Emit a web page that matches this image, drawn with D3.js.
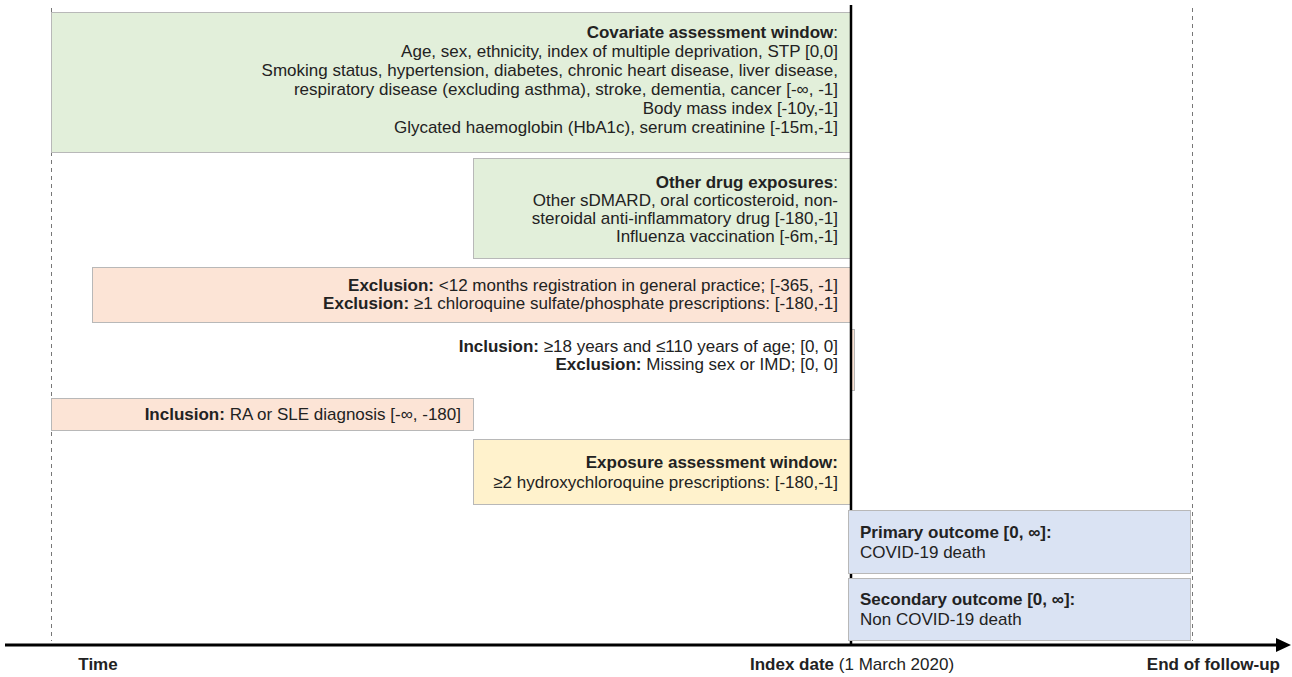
<!DOCTYPE html>
<html>
<head>
<meta charset="utf-8">
<script src="https://cdn.jsdelivr.net/npm/d3@7"></script>
<style>
  body { margin: 0; background: #fff; }
  text { font-family: "Liberation Sans", Arial, sans-serif; fill: #222; font-size: 17px; }
</style>
</head>
<body>
<svg id="chart" width="1292" height="677"></svg>
<script>
// schematic time anchors (days relative to index date)
var timePoints = ["-inf", "-365", "-180", "0", "inf"];

// each window: start, end, kind, text lines as [bold, regular]
var windowFrom = ["-inf", "-180", "-365", "0", "-inf", "-180", "0", "0"];
var windowTo   = ["0", "0", "0", "0", "-180", "0", "inf", "inf"];
var windowKind = ["covariate", "covariate", "criteria", "criteria", "criteria", "exposure", "outcome", "outcome"];
var windowLines = [
    [["Covariate assessment window", ":"],
     ["", "Age, sex, ethnicity, index of multiple deprivation, STP [0,0]"],
     ["", "Smoking status, hypertension, diabetes, chronic heart disease, liver disease,"],
     ["", "respiratory disease (excluding asthma), stroke, dementia, cancer [-\u221E, -1]"],
     ["", "Body mass index [-10y,-1]"],
     ["", "Glycated haemoglobin (HbA1c), serum creatinine [-15m,-1]"]],
    [["Other drug exposures", ":"],
     ["", "Other sDMARD, oral corticosteroid, non-"],
     ["", "steroidal anti-inflammatory drug [-180,-1]"],
     ["", "Influenza vaccination [-6m,-1]"]],
    [["Exclusion:", " <12 months registration in general practice; [-365, -1]"],
     ["Exclusion:", " \u22651 chloroquine sulfate/phosphate prescriptions: [-180,-1]"]],
    [["Inclusion:", " \u226518 years and \u2264110 years of age; [0, 0]"],
     ["Exclusion:", " Missing sex or IMD; [0, 0]"]],
    [["Inclusion:", " RA or SLE diagnosis [-\u221E, -180]"]],
    [["Exposure assessment window:", ""],
     ["", "\u22652 hydroxychloroquine prescriptions: [-180,-1]"]],
    [["Primary outcome [0, \u221E]:", ""],
     ["", "COVID-19 death"]],
    [["Secondary outcome [0, \u221E]:", ""],
     ["", "Non COVID-19 death"]]
];

// axis labels along the timeline
var axisLabels = [["Time", ""], ["Index date", " (1 March 2020)"], ["End of follow-up", ""]];

// ---------- layout ----------
var kindFill = { covariate: "#e2efda", criteria: "#fce4d6", exposure: "#fff2cc", outcome: "#dae3f3" };
var rowY0 = [12, 158, 267, 329, 398, 439, 510, 578];
var rowY1 = [152, 258, 322, 390, 430, 504, 573, 640];
var rowTextY = [32, 182, 285, 346, 414, 462, 532, 599];
var rowLineH = [19, 18, 18, 18, 18, 20, 20, 20];

var svg = d3.select("#chart");
var x = d3.scaleOrdinal().domain(timePoints).range([51, 92, 473, 850, 1190]);
var axisY = 645;

// dashed guides at start and end of follow-up
[["-inf", 0], ["inf", 2]].forEach(function(d){
    svg.append("line")
        .attr("x1", x(d[0]) + d[1] + 0.5).attr("x2", x(d[0]) + d[1] + 0.5)
        .attr("y1", 8).attr("y2", axisY - 4)
        .attr("stroke", "#777").attr("stroke-width", 1)
        .attr("stroke-dasharray", "4,4");
});

function drawWindow(i){
    var xEnd = x(windowTo[i]);
    var x0 = x(windowFrom[i]), x1 = xEnd;
    var outcome = windowKind[i] === "outcome";
    if (outcome) x0 -= 2;
    if (x1 - x0 < 4) x1 = x0 + 4;   // [0,0] window: draw a sliver
    svg.append("rect")
        .attr("x", x0 + 0.5).attr("y", rowY0[i] + 0.5)
        .attr("width", x1 - x0).attr("height", rowY1[i] - rowY0[i])
        .attr("fill", kindFill[windowKind[i]])
        .attr("stroke", "#b8b8b8").attr("stroke-width", 1);

    var anchor = outcome ? "start" : "end";
    var tx = outcome ? x0 + 12 : xEnd - 12;
    windowLines[i].forEach(function(line, j){
        var t = svg.append("text")
            .attr("x", tx)
            .attr("y", rowTextY[i] + j * rowLineH[i])
            .attr("dy", "0.35em")
            .attr("text-anchor", anchor);
        if (line[0]) t.append("tspan").attr("font-weight", "bold").text(line[0]);
        if (line[1]) t.append("tspan").text(line[1]);
    });
}

// windows left of index date, then the index line, then outcomes over it
d3.range(windowFrom.length).filter(function(i){ return windowKind[i] !== "outcome"; }).forEach(drawWindow);

svg.append("line")
    .attr("x1", x("0") + 1).attr("x2", x("0") + 1)
    .attr("y1", 5).attr("y2", axisY)
    .attr("stroke", "#000").attr("stroke-width", 2.5);

d3.range(windowFrom.length).filter(function(i){ return windowKind[i] === "outcome"; }).forEach(drawWindow);

// time axis arrow
svg.append("line")
    .attr("x1", 5).attr("x2", 1278)
    .attr("y1", axisY).attr("y2", axisY)
    .attr("stroke", "#000").attr("stroke-width", 3);
svg.append("path")
    .attr("d", "M1276," + (axisY - 7) + " L1291," + axisY + " L1276," + (axisY + 7) + " Z")
    .attr("fill", "#000");

// axis labels
var labelX = [98, 750, 1280];
var labelAnchor = ["middle", "start", "end"];
axisLabels.forEach(function(l, i){
    var t = svg.append("text")
        .attr("x", labelX[i]).attr("y", 664)
        .attr("dy", "0.35em")
        .attr("text-anchor", labelAnchor[i]);
    t.append("tspan").attr("font-weight", "bold").text(l[0]);
    if (l[1]) t.append("tspan").text(l[1]);
});
</script>
</body>
</html>
